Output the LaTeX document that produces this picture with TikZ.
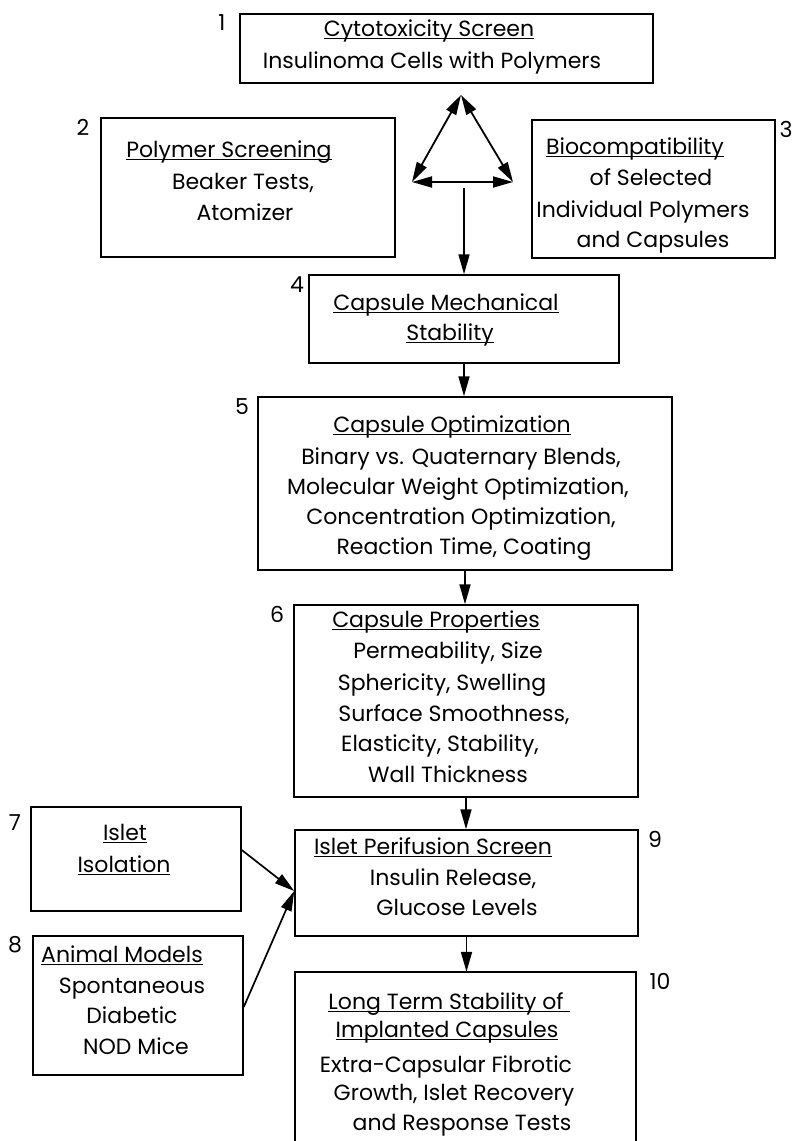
\documentclass[tikz,border=0pt]{standalone}
\usepackage{fontspec}
\setmainfont{Poppins}
\usetikzlibrary{arrows.meta}
\newsavebox\ulbox
\newcommand\ulx[1]{\sbox\ulbox{#1}\rlap{\rule[-2.6pt]{\wd\ulbox}{1.2pt}}\usebox\ulbox}
\begin{document}
\begin{tikzpicture}[x=1pt,y=-1pt,
  box/.style={draw, line width=1.5pt, inner sep=0pt},
  txt/.style={inner sep=0pt, text height=15pt, text depth=0pt, font=\fontsize{22}{26}\selectfont},
  num/.style={inner sep=0pt, text height=15pt, text depth=0pt, font=\fontsize{22}{26}\selectfont},
  arr/.style={line width=1.7pt, -{Triangle[length=20pt,width=11pt]}},
  darr/.style={line width=1.8pt, {Triangle[length=20pt,width=11pt]}-{Triangle[length=20pt,width=11pt]}}]
\useasboundingbox (0,0) rectangle (799,1141);
% boxes
\node[box, minimum width=413pt, minimum height=69pt] (b1) at (446.5,48.5) {};
\node[box, minimum width=294pt, minimum height=139pt] (b2) at (248,187.5) {};
\node[box, minimum width=243pt, minimum height=138pt] (b3) at (653.5,189) {};
\node[box, minimum width=310pt, minimum height=88pt] (b4) at (464,319) {};
\node[box, minimum width=414pt, minimum height=173pt] (b5) at (465,483.5) {};
\node[box, minimum width=344pt, minimum height=192pt] (b6) at (466,701) {};
\node[box, minimum width=210pt, minimum height=104pt] (b7) at (136,859) {};
\node[box, minimum width=210pt, minimum height=139pt] (b8) at (138,1005.5) {};
\node[box, minimum width=343pt, minimum height=106pt] (b9) at (466.5,883) {};
\node[inner sep=0pt, minimum width=341pt, minimum height=188pt] (b10) at (465.5,1066) {};
\draw[line width=1.5pt] (b10.south west) -- (b10.north west) -- (b10.north east) -- (b10.south east);
% numbers
\node[num] (n1) at (222,23) {1};
\node[num] (n2) at (83,128) {2};
\node[num] (n3) at (786,130) {3};
\node[num] (n4) at (297,285) {4};
\node[num] (n5) at (242,407) {5};
\node[num] (n6) at (277,615) {6};
\node[num] (n7) at (15,823) {7};
\node[num] (n8) at (15,945) {8};
\node[num] (n9) at (655,840) {9};
\node[num] (n10) at (660,982) {10};
% texts box 1
\node[txt] (t1a) at (429,29) {\ulx{Cytotoxicity Screen}};
\node[txt] (t1b) at (432,61) {Insulinoma Cells with Polymers};
% box 2
\node[txt] (t2a) at (229,150) {\ulx{Polymer Screening}};
\node[txt] (t2b) at (243,182) {Beaker Tests,};
\node[txt] (t2c) at (245,213) {Atomizer};
% box 3
\node[txt] (t3a) at (635,147) {\ulx{Biocompatibility}};
\node[txt] (t3b) at (651,178) {of Selected};
\node[txt] (t3c) at (643,210) {Individual Polymers};
\node[txt] (t3d) at (653,240) {and Capsules};
% box 4
\node[txt] (t4a) at (446,303) {\ulx{Capsule Mechanical}};
\node[txt] (t4b) at (450,333) {\ulx{Stability}};
% box 5
\node[txt] (t5a) at (452,425) {\ulx{Capsule Optimization}};
\node[txt] (t5b) at (461,457) {Binary vs. Quaternary Blends,};
\node[txt] (t5c) at (458,487) {Molecular Weight Optimization,};
\node[txt] (t5d) at (461,517) {Concentration Optimization,};
\node[txt] (t5e) at (464,547) {Reaction Time, Coating};
% box 6
\node[txt] (t6a) at (436,620) {\ulx{Capsule Properties}};
\node[txt] (t6b) at (448,651) {Permeability, Size};
\node[txt] (t6c) at (442,683) {Sphericity, Swelling};
\node[txt] (t6d) at (454,714) {Surface Smoothness,};
\node[txt] (t6e) at (440,744) {Elasticity, Stability,};
\node[txt] (t6f) at (448,775) {Wall Thickness};
% box 7
\node[txt] (t7a) at (125,833) {\ulx{Islet}};
\node[txt] (t7b) at (124,865) {\ulx{Isolation}};
% box 8
\node[txt] (t8a) at (122,955) {\ulx{Animal Models}};
\node[txt] (t8b) at (132,986) {Spontaneous};
\node[txt] (t8c) at (132,1016) {Diabetic};
\node[txt] (t8d) at (136,1047) {NOD Mice};
% box 9
\node[txt] (t9a) at (433,847) {\ulx{Islet Perifusion Screen}};
\node[txt] (t9b) at (453,878) {Insulin Release,};
\node[txt] (t9c) at (457,908) {Glucose Levels};
% box 10
\node[txt] (t10a) at (449,1002) {\ulx{Long Term Stability of\ }};
\node[txt] (t10b) at (447,1030) {\ulx{Implanted Capsules}};
\node[txt] (t10c) at (446,1065) {Extra-Capsular Fibrotic};
\node[txt] (t10d) at (454,1093) {Growth, Islet Recovery};
\node[txt] (t10e) at (462,1123) {and Response Tests};
% triangle
\coordinate (tA) at (461,95);
\coordinate (tL) at (412,182);
\coordinate (tR) at (513,182);
\coordinate (tB) at (464,188);
\draw[darr] (tA) -- (tL);
\draw[darr] (tA) -- (tR);
\draw[darr] (tL) -- (tR);
\draw[arr] (tB) -- (b4.north);
% chain arrows
\draw[arr] (b4.south) -- (b4.south |- b5.north);
\draw[arr] (b5.south) -- (b5.south |- b6.north);
\draw[arr] (b6.south) -- (b6.south |- b9.north);
\draw[arr] (b9.south) -- (b9.south |- b10.north);
\draw[arr] ([yshift=9pt]b7.east) -- ([yshift=-8pt]b9.west);
\draw[arr] ([yshift=-1.5pt]b8.east) -- ([yshift=-8pt]b9.west);
\end{tikzpicture}
\end{document}
